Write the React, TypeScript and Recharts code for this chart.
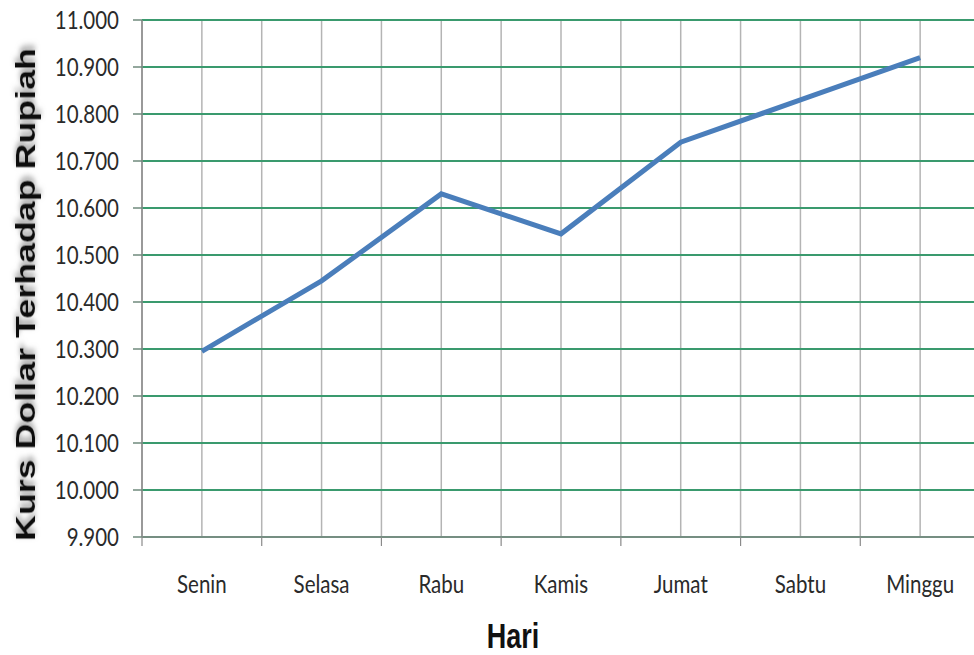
import React from "react";
import { LineChart, Line, XAxis, YAxis, CartesianGrid, Label } from "recharts";

const days = ["Senin", "Selasa", "Rabu", "Kamis", "Jumat", "Sabtu", "Minggu"];
const kurs = [10295, 10445, 10630, 10545, 10740, 10830, 10920];
const yTicks = [9900, 10000, 10100, 10200, 10300, 10400, 10500, 10600, 10700, 10800, 10900, 11000];
const xTicks = [0, 0.5, 1, 1.5, 2, 2.5, 3, 3.5, 4, 4.5, 5, 5.5, 6, 6.5, 7];

const data = days.map((d, i) => ({ pos: i + 0.5, day: d, kurs: kurs[i] }));

const fmt = (v: number) => {
  const s = String(Math.round(v));
  return s.slice(0, s.length - 3) + "." + s.slice(s.length - 3);
};

const TICK_FONT = "Lato, 'Open Sans', sans-serif";

const XTick = (props: any) => {
  const { x, y, payload } = props;
  const v = payload.value as number;
  if (Number.isInteger(v)) {
    return <line x1={x} y1={y} x2={x} y2={y + 9} stroke="#8a8a8a" strokeWidth={1.2} />;
  }
  const name = days[Math.floor(v)];
  return (
    <text
      transform={`translate(${x},${y + 56}) scale(1,1.25)`}
      textAnchor="middle"
      fontFamily={TICK_FONT}
      fontSize={20.5}
      fill="#2a2a2a"
    >
      {name}
    </text>
  );
};

const YTick = (props: any) => {
  const { x, y, payload } = props;
  return (
    <text
      transform={`translate(${x},${y}) scale(1,1.2)`}
      textAnchor="end"
      dominantBaseline="central"
      fontFamily={TICK_FONT}
      fontSize={20.5}
      fill="#2a2a2a"
    >
      {fmt(payload.value)}
    </text>
  );
};

const YTitle = (props: any) => {
  const vb = props.viewBox || {};
  const cy = vb.y + vb.height / 2 + 16;
  return (
    <g>
      <defs>
        <filter id="ytshadow" x="-20%" y="-20%" width="140%" height="140%">
          <feDropShadow dx="3" dy="0" stdDeviation="2.5" floodColor="#777" floodOpacity="0.8" />
        </filter>
      </defs>
      <text
        transform={`translate(35,${cy}) rotate(-90) scale(1.28,1)`}
        textAnchor="middle"
        fontFamily="'Liberation Sans', Arial, sans-serif"
        fontWeight="bold"
        fontSize={28}
        fill="#111"
        filter="url(#ytshadow)"
      >
        Kurs Dollar Terhadap Rupiah
      </text>
    </g>
  );
};

const XTitle = (props: any) => {
  return (
    <text
      transform={`translate(513,648) scale(1,1.3)`}
      textAnchor="middle"
      fontFamily="'Liberation Sans', Arial, sans-serif"
      fontWeight="bold"
      fontSize={27}
      fill="#111"
    >
      Hari
    </text>
  );
};

export default function App() {
  return (
    <div
      style={{
        position: "absolute",
        left: 0,
        top: 0,
        width: 974,
        height: 655,
        overflow: "hidden",
        background: "#fff",
      }}
    >
      <LineChart
        width={980}
        height={655}
        data={data}
        margin={{ top: 20, right: 0, bottom: 0, left: 0 }}
      >
        <CartesianGrid horizontal={false} vertical={true} stroke="#b4b4b4" strokeWidth={1.5} />
        <CartesianGrid horizontal={true} vertical={false} stroke="#3a9a6e" strokeWidth={2.2} />
        <XAxis
          dataKey="pos"
          type="number"
          domain={[0, 7]}
          ticks={xTicks}
          interval={0}
          height={118}
          tickSize={0}
          tickMargin={0}
          tickLine={false}
          tick={<XTick />}
          axisLine={{ stroke: "#8a8a8a", strokeWidth: 1.5 }}
        >
          <Label content={<XTitle />} />
        </XAxis>
        <YAxis
          type="number"
          domain={[9900, 11000]}
          ticks={yTicks}
          interval={0}
          width={142}
          tickSize={9}
          tickMargin={14}
          tick={<YTick />}
          tickLine={{ stroke: "#6f8a7c", strokeWidth: 1.5 }}
          axisLine={{ stroke: "#8a8a8a", strokeWidth: 1.5 }}
        >
          <Label content={<YTitle />} />
        </YAxis>
        <Line
          type="linear"
          dataKey="kurs"
          stroke="#4a7ebb"
          strokeWidth={5}
          dot={false}
          activeDot={false}
          isAnimationActive={false}
        />
      </LineChart>
    </div>
  );
}
